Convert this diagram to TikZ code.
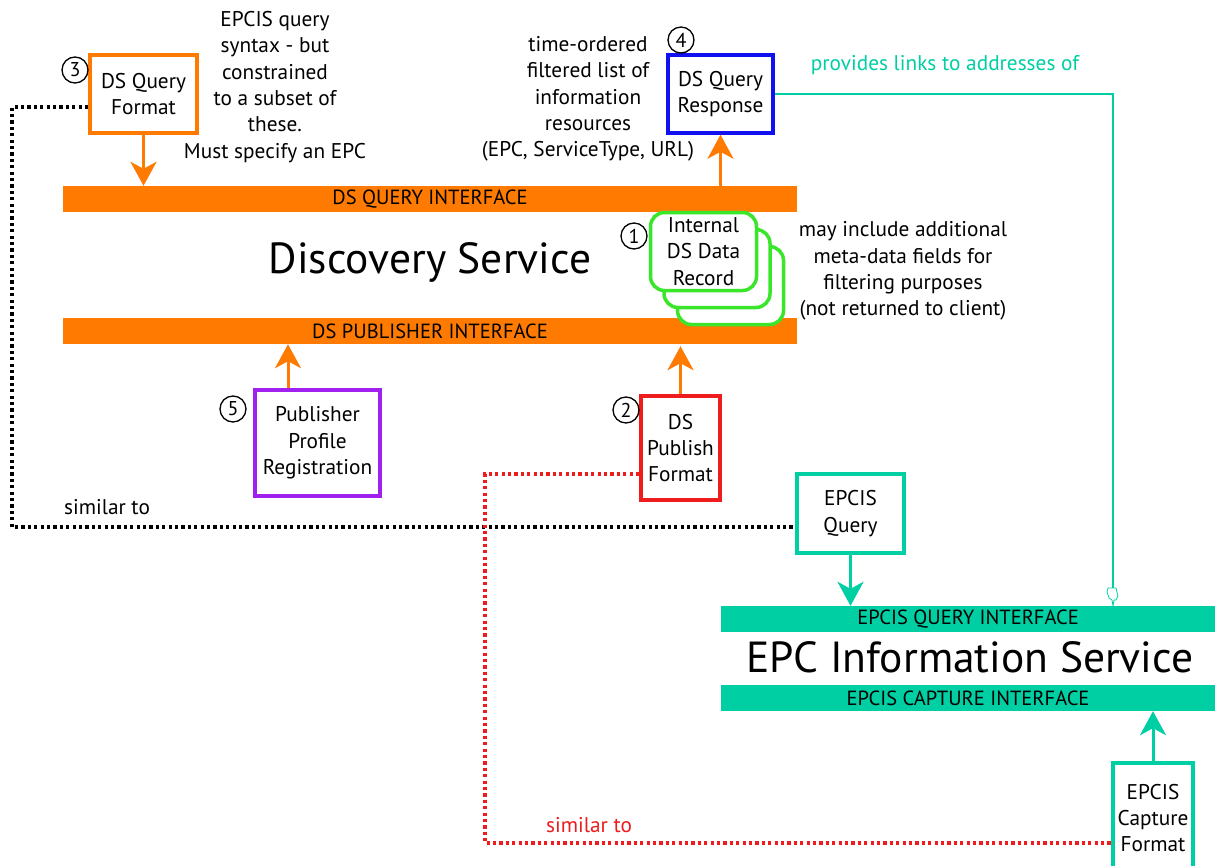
\documentclass[tikz,border=0pt]{standalone}
\usepackage{fontspec}
\setmainfont{PT Sans}
\usetikzlibrary{arrows.meta}
\definecolor{dsorange}{HTML}{FF7A00}
\definecolor{epteal}{HTML}{00CFA3}
\definecolor{qblue}{HTML}{1010F0}
\definecolor{recgreen}{HTML}{3AE62A}
\definecolor{pubpurple}{HTML}{A020F0}
\definecolor{pubred}{HTML}{EE1C1C}
\tikzset{
  txt/.style={font=\fontsize{21.3}{26.3}\selectfont, align=center, inner sep=0pt},
  boxnode/.style={draw, line width=3.5pt, fill=white, txt},
  bar/.style={inner sep=0pt, font=\fontsize{20.5}{22}\selectfont},
  bigtxt/.style={font=\fontsize{43.5}{46}\selectfont, inner sep=0pt},
  num/.style={circle, draw, line width=1.3pt, minimum size=26pt, inner sep=0pt, font=\fontsize{20}{20}\selectfont},
  upar/.style={line width=3pt, -{Stealth[length=24pt,width=26pt,inset=7pt]}},
  dotline/.style={line width=3.2pt, dash pattern=on 3.2pt off 3.2pt},
  rec/.style={draw=recgreen, line width=3.5pt, fill=white, rounded corners=14pt, minimum width=106pt, minimum height=78pt, txt}
}
\begin{document}
\begin{tikzpicture}[x=1pt,y=-1pt]
\clip (0,0) rectangle (1215,865);
\fill[white] (0,0) rectangle (1215,865);

% Discovery Service bars
\node[bar, fill=dsorange, minimum width=734pt, minimum height=26pt] (qbar) at (430,199) {DS QUERY INTERFACE};
\node[bar, fill=dsorange, minimum width=734pt, minimum height=26pt] (pbar) at (430,331) {DS PUBLISHER INTERFACE};
\node[bigtxt] (ds) at (430,262) {Discovery Service};

% EPCIS bars
\node[bar, fill=epteal, minimum width=494pt, minimum height=26pt] (eqbar) at (968,619) {EPCIS QUERY INTERFACE};
\node[bar, fill=epteal, minimum width=494pt, minimum height=26pt] (ecbar) at (968,698) {EPCIS CAPTURE INTERFACE};
\node[bigtxt] (eis) at (970,657) {EPC Information Service};

% Boxes
\node[boxnode, draw=dsorange, minimum width=107pt, minimum height=78pt] (qf) at (143.5,94) {DS Query\\Format};
\node[boxnode, draw=qblue, minimum width=105pt, minimum height=78pt] (qr) at (720.5,94) {DS Query\\Response};
\node[boxnode, draw=pubpurple, minimum width=125pt, minimum height=106pt] (pp) at (317.5,443) {Publisher\\Profile\\Registration};
\node[boxnode, draw=pubred, minimum width=79pt, minimum height=104pt] (dp) at (680.5,448) {DS\\Publish\\Format};
\node[boxnode, draw=epteal, minimum width=107pt, minimum height=79pt] (eq) at (850.5,513.5) {EPCIS\\Query};
\node[boxnode, draw=epteal, minimum width=80pt, minimum height=110pt] (ecf) at (1153,818) {EPCIS\\Capture\\Format};

% Internal records stack
\node[rec] (r3) at (730.5,285.5) {};
\node[rec] (r2) at (717,268.5) {};
\node[rec] (r1) at (703.5,251.5) {Internal\\DS Data\\Record};

% Numbers
\node[num] (n3) at (75,70) {3};
\node[num] (n4) at (681,40) {4};
\node[num] (n1) at (634,236) {1};
\node[num] (n5) at (233,409) {5};
\node[num] (n2) at (626,410) {2};

% Annotations
\node[txt] (t3) at (275,87) {EPCIS query\\syntax - but\\constrained\\to a subset of\\these.\\Must specify an EPC};
\node[txt] (t4) at (588,99) {time-ordered\\filtered list of\\information\\resources\\(EPC, ServiceType, URL)};
\node[txt] (t1) at (903,271) {may include additional\\meta-data fields for\\filtering purposes\\(not returned to client)};
\node[txt, text=epteal] (tl) at (945,65) {provides links to addresses of};
\node[txt] (s1) at (107,507) {similar to};
\node[txt, text=pubred] (s2) at (589,825) {similar to};

% Arrows
\coordinate (ppa) at (288,0);
\draw[upar, draw=dsorange] (qf.south) -- (qf.south |- qbar.north);
\draw[upar, draw=dsorange] (qbar.north -| qr.south) -- (qr.south);
\draw[upar, draw=dsorange] (ppa |- pp.north) -- (ppa |- pbar.south);
\draw[upar, draw=dsorange] (dp.north) -- ([yshift=-2pt]dp.north |- pbar.south);
\draw[upar, draw=epteal] (eq.south) -- (eq.south |- eqbar.north);
\draw[upar, draw=epteal] (ecf.north) -- (ecf.north |- ecbar.south);

% Teal link
\coordinate (hand) at (1113,604);
\draw[epteal, line width=1.6pt] (qr.east) -| (hand);
\draw[epteal, line width=0.8pt, fill=white] (1108,588) -- (1116,588) -- (1118,596) -- (1116,600) -- (1114,600) -- (1113,606) -- (1112,600) -- (1109,598) -- (1107,592) -- cycle;

% Dotted "similar to" lines
\coordinate (b1) at (12,527);
\draw[dotline, black] ([yshift=-13pt]qf.west) -| (b1) -- (b1 -| eq.west);
\coordinate (rr1) at (485,843);
\draw[dotline, pubred] ([yshift=-26pt]dp.west) -| (rr1) -- (rr1 -| ecf.west);
\end{tikzpicture}
\end{document}
